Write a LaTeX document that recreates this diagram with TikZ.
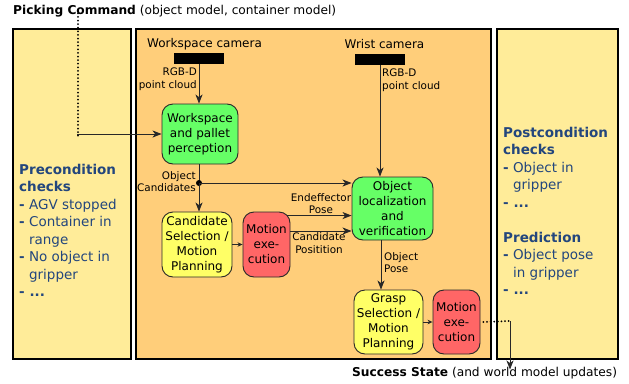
\documentclass[tikz,border=0pt]{standalone}
\usepackage{fontspec}
\setmainfont{DejaVu Sans}
\usetikzlibrary{arrows.meta,calc}
\definecolor{panelY}{RGB}{255,236,153}
\definecolor{panelO}{RGB}{255,206,122}
\definecolor{boxG}{RGB}{102,255,102}
\definecolor{boxY}{RGB}{255,255,102}
\definecolor{boxR}{RGB}{255,102,102}
\definecolor{txtB}{RGB}{35,70,125}
\definecolor{edge}{RGB}{40,40,40}
\newcommand\pind{\hphantom{\textbf{-}}\ }
\tikzset{
  panel/.style={draw=black, line width=1.6pt, inner sep=0pt},
  procbox/.style={draw=edge, line width=0.9pt, rounded corners=11pt, inner sep=0pt, align=center, font=\fontsize{12}{15}\selectfont},
  smalllbl/.style={inner sep=0pt, font=\fontsize{10.4}{12.8}\selectfont},
  paneltxt/.style={inner sep=0pt, align=left, text=txtB, font=\fontsize{13.5}{17.5}\selectfont},
  arr/.style={draw=edge, line width=0.9pt, -{Stealth[length=9pt,width=7pt,inset=2.5pt]}},
  smallarr/.style={draw=edge, line width=0.9pt, -{Stealth[length=5pt,width=4.5pt,inset=1.5pt]}},
  dotline/.style={line width=2pt, line cap=round, dash pattern=on 0pt off 3.6pt},
  cambar/.style={fill=black, minimum width=50pt, minimum height=11pt, inner sep=0pt}
}
\begin{document}
\begin{tikzpicture}[x=1pt,y=-1pt]
\useasboundingbox (0,0) rectangle (629,383);
% panels
\node[panel, fill=panelY, minimum width=118pt, minimum height=330pt] (left) at (72,194) {};
\node[panel, fill=panelO, minimum width=355pt, minimum height=330pt] (mid) at (313.5,194) {};
\node[panel, fill=panelY, minimum width=121pt, minimum height=330pt] (right) at (557.5,194) {};
% panel texts
\node[paneltxt, anchor=north west] (pre) at (19,164) {\textbf{Precondition}\\\textbf{checks}\\\textbf{-} AGV stopped\\\textbf{-} Container in\\\pind range\\\textbf{-} No object in\\\pind gripper\\\textbf{- ...}};
\node[paneltxt, anchor=north west] (post) at (503,127) {\textbf{Postcondition}\\\textbf{checks}\\\textbf{-} Object in\\\pind gripper\\\textbf{- ...}\\[17.5pt]\textbf{Prediction}\\\textbf{-} Object pose\\\pind in gripper\\\textbf{- ...}};
% top / bottom texts
\node[inner sep=0pt, anchor=base west, font=\fontsize{12.2}{14}\selectfont] (pick) at (13,14.5) {\textbf{Picking Command} (object model, container model)};
\node[inner sep=0pt, anchor=base west, font=\fontsize{12.2}{14}\selectfont] (succ) at (352,376) {\textbf{Success State} (and world model updates)};
% cameras
\node[inner sep=0pt, anchor=base, font=\fontsize{12}{14}\selectfont] (wslbl) at (204.5,47.5) {Workspace camera};
\node[inner sep=0pt, anchor=base, font=\fontsize{12}{14}\selectfont] (wrlbl) at (384.5,48) {Wrist camera};
\node[cambar] (cam1) at (199,58.5) {};
\node[cambar] (cam2) at (380,59) {};
% boxes
\node[procbox, fill=boxG, minimum width=76pt, minimum height=60pt] (perc) at (200,134) {Workspace\\and pallet\\perception};
\node[procbox, fill=boxG, minimum width=81pt, minimum height=63pt] (objloc) at (392.5,208.5) {Object\\localization\\and\\verification};
\node[procbox, fill=boxY, minimum width=70pt, minimum height=65pt] (cand) at (197,244.5) {Candidate\\Selection /\\Motion\\Planning};
\node[procbox, fill=boxR, minimum width=47pt, minimum height=65pt] (mot1) at (266.5,244.5) {Motion\\exe-\\cution};
\node[procbox, fill=boxY, minimum width=69pt, minimum height=64pt] (grasp) at (388.5,322) {Grasp\\Selection /\\Motion\\Planning};
\node[procbox, fill=boxR, minimum width=47pt, minimum height=64pt] (mot2) at (456.5,322) {Motion\\exe-\\cution};
% small labels
\node[smalllbl, anchor=north east, align=right] (rgb1) at (197,68) {RGB-D\\point cloud};
\node[smalllbl, anchor=north west, align=left] (rgb2) at (382,69) {RGB-D\\point cloud};
\node[smalllbl, anchor=north east, align=right] (ocand) at (196,171) {Object\\Candidates};
\node[smalllbl, anchor=north, align=center] (eepose) at (321,193) {Endeffector\\Pose};
\node[smalllbl, anchor=north, align=center] (cpos) at (319,232.5) {Candidate\\Positition};
\node[smalllbl, anchor=north west, align=left] (opose) at (384,252) {Object\\Pose};
% connectors
\coordinate (pc) at (78,134);
\draw[dotline] ([yshift=4pt]pick.south -| pc) -- ([yshift=-2pt]pc);
\draw[arr] ([xshift=-1pt]pc) -- (perc.west);
\draw[arr] (cam1.south) -- (cam1.south |- perc.north);
\draw[arr] (cam2.south) -- (cam2.south |- objloc.north);
\coordinate (junc) at (199,183);
\draw[edge, line width=0.9pt] (perc.south -| junc) -- (junc);
\fill[black] (junc) circle (3pt);
\draw[arr] (junc) -- (junc |- cand.north);
\draw[arr] (junc) -- (junc -| objloc.west);
\draw[smallarr] (cand.east) -- (mot1.west);
\coordinate (e1) at ([xshift=-3pt,yshift=-4pt]mot1.north east);
\draw[arr] (e1) -- (e1 -| objloc.west);
\coordinate (e2) at ([yshift=13.5pt]mot1.east);
\draw[arr] (e2) -- (e2 -| objloc.west);
\coordinate (e3) at ([xshift=-11.5pt]objloc.south);
\draw[arr] (e3) -- (e3 |- grasp.north);
\draw[smallarr] (grasp.east) -- (mot2.west);
\coordinate (e4) at (510,321);
\draw[dotline] ([xshift=3pt]mot2.east) -- (e4);
\draw[arr] (e4) -- ([yshift=-3pt]e4 |- succ.north);
\end{tikzpicture}
\end{document}
